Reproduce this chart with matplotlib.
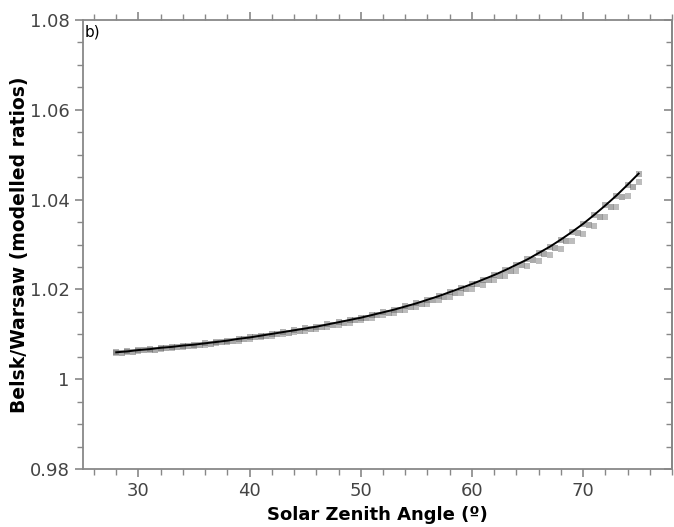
import matplotlib
matplotlib.use("Agg")
from matplotlib import pyplot as plt
from matplotlib.ticker import MultipleLocator, FixedFormatter, FixedLocator

# Modelled ratio Belsk/Warsaw vs solar zenith angle
sza = [28, 29, 30, 31, 32, 33, 34, 35, 36, 37, 38, 39, 40, 41, 42, 43,
       44, 45, 46, 47, 48, 49, 50, 51, 52, 53, 54, 55, 56, 57, 58, 59,
       60, 61, 62, 63, 64, 65, 66, 67, 68, 69, 70, 71, 72, 73, 74, 75]
ratio_line = [1.0060, 1.0062, 1.0065, 1.0067, 1.0070, 1.0072, 1.0075, 1.0077,
              1.0080, 1.0083, 1.0086, 1.0090, 1.0093, 1.0097, 1.0101, 1.0105,
              1.0109, 1.0113, 1.0117, 1.0122, 1.0127, 1.0132, 1.0137, 1.0143,
              1.0149, 1.0155, 1.0162, 1.0169, 1.0177, 1.0185, 1.0194, 1.0203,
              1.0212, 1.0222, 1.0232, 1.0243, 1.0255, 1.0267, 1.0281, 1.0295,
              1.0311, 1.0328, 1.0346, 1.0366, 1.0387, 1.0409, 1.0433, 1.0458]
ratio_low = [1.0058, 1.0060, 1.0062, 1.0064, 1.0067, 1.0069, 1.0072, 1.0074,
             1.0077, 1.0080, 1.0083, 1.0086, 1.0089, 1.0093, 1.0097, 1.0101,
             1.0105, 1.0108, 1.0112, 1.0117, 1.0121, 1.0126, 1.0131, 1.0136,
             1.0142, 1.0148, 1.0154, 1.0161, 1.0168, 1.0176, 1.0184, 1.0192,
             1.0201, 1.0210, 1.0220, 1.0230, 1.0241, 1.0252, 1.0264, 1.0277,
             1.0291, 1.0307, 1.0324, 1.0342, 1.0362, 1.0384, 1.0408, 1.0440]

sza_half = [28.5, 29.5, 30.5, 31.5, 32.5, 33.5, 34.5, 35.5, 36.5, 37.5, 38.5,
            39.5, 40.5, 41.5, 42.5, 43.5, 44.5, 45.5, 46.5, 47.5, 48.5, 49.5,
            50.5, 51.5, 52.5, 53.5, 54.5, 55.5, 56.5, 57.5, 58.5, 59.5, 60.5,
            61.5, 62.5, 63.5, 64.5, 65.5, 66.5, 67.5, 68.5, 69.5, 70.5, 71.5,
            72.5, 73.5, 74.5]
ratio_mid = [1.0059, 1.0061, 1.0064, 1.0066, 1.0069, 1.0071, 1.0074, 1.0076,
             1.0079, 1.0082, 1.0086, 1.0089, 1.0093, 1.0097, 1.0100, 1.0104,
             1.0108, 1.0112, 1.0116, 1.0121, 1.0126, 1.0131, 1.0136, 1.0142,
             1.0148, 1.0154, 1.0161, 1.0168, 1.0176, 1.0184, 1.0193, 1.0202,
             1.0211, 1.0221, 1.0231, 1.0242, 1.0254, 1.0266, 1.0279, 1.0293,
             1.0308, 1.0325, 1.0343, 1.0362, 1.0383, 1.0405, 1.0429]

y_ticks = [0.98, 1.0, 1.02, 1.04, 1.06, 1.08]
y_labels = ["0.98", "1", "1.02", "1.04", "1.06", "1.08"]

fig = plt.figure(figsize=(6.74, 5.27), dpi=100)
ax = fig.add_axes([0.123, 0.110, 0.874, 0.852])

# Marcadores grises (varias series) y linea negra
ax.plot(sza_half, ratio_mid, "s", color="#666666", alpha=0.55, ms=5, mew=0)
ax.plot(sza, ratio_low, "s", color="#888888", alpha=0.55, ms=5, mew=0)
ax.plot(sza, ratio_line, "s", color="#555555", alpha=0.45, ms=5, mew=0)
ax.plot(sza, ratio_line, "-", color="black", lw=1.4)

ax.set_xlim(25, 78)
ax.set_ylim(0.98, 1.08)
ax.xaxis.set_major_locator(MultipleLocator(10))
ax.xaxis.set_minor_locator(MultipleLocator(2))
ax.yaxis.set_major_locator(FixedLocator(y_ticks))
ax.yaxis.set_major_formatter(FixedFormatter(y_labels))
ax.yaxis.set_minor_locator(MultipleLocator(0.005))

gris = "#888888"
for s in ax.spines.values():
    s.set_color(gris)
    s.set_linewidth(1.3)

ax.tick_params(which="both", direction="out", colors=gris, labelcolor="#444444",
               labelsize=13, top=True, right=False)
ax.tick_params(which="major", length=6, width=1.2)
ax.tick_params(which="minor", length=4, width=1.0)

# Ticks de la derecha hacia dentro
sec = ax.secondary_yaxis("right")
sec.yaxis.set_major_locator(FixedLocator(y_ticks))
sec.yaxis.set_minor_locator(MultipleLocator(0.005))
sec.tick_params(which="both", direction="in", colors=gris, labelright=False)
sec.tick_params(which="major", length=6, width=1.2)
sec.tick_params(which="minor", length=4, width=1.0)
sec.spines["right"].set_color(gris)
sec.spines["right"].set_linewidth(1.3)

ax.set_xlabel("Solar Zenith Angle (º)", fontsize=13, fontweight="bold", labelpad=4)
ax.set_ylabel("Belsk/Warsaw (modelled ratios)", fontsize=13.5, fontweight="bold")
ax.yaxis.set_label_coords(-0.092, 0.5)
ax.text(0.003, 0.99, "b)", transform=ax.transAxes, fontsize=11, va="top", ha="left")

fig.savefig("out.png", dpi=100)
